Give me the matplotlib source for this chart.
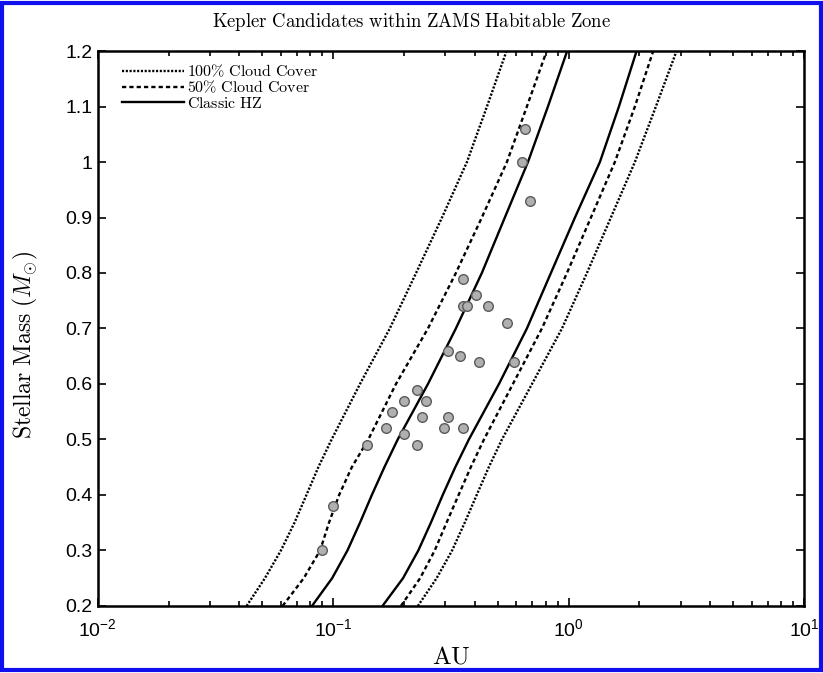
import numpy as np
import matplotlib
matplotlib.use('Agg')
import matplotlib.pyplot as plt
from matplotlib.patches import Rectangle
from matplotlib.ticker import LogLocator, NullFormatter, FixedLocator

plt.rcParams['mathtext.fontset'] = 'cm'
plt.rcParams['font.family'] = ['Liberation Sans', 'DejaVu Sans']

# stellar mass grid (M_sun) for the habitable zone boundaries
mass = [0.20, 0.25, 0.30, 0.35, 0.40, 0.45, 0.50, 0.60, 0.70, 0.80, 0.90, 1.00, 1.10, 1.20]

# boundary distances in AU
cloud100_inner = [0.0429, 0.0513, 0.0600, 0.0685, 0.0770, 0.0865, 0.0985, 0.130, 0.174, 0.225, 0.290, 0.370, 0.450, 0.545]
cloud50_inner = [0.0610, 0.0750, 0.0880, 0.0960, 0.1060, 0.1200, 0.1410, 0.1848, 0.2527, 0.332, 0.428, 0.547, 0.665, 0.807]
classic_inner = [0.0813, 0.0990, 0.1150, 0.130, 0.1460, 0.1650, 0.1880, 0.2527, 0.332, 0.428, 0.536, 0.672, 0.817, 0.986]
classic_outer = [0.162, 0.198, 0.230, 0.260, 0.292, 0.330, 0.377, 0.506, 0.665, 0.841, 1.064, 1.358, 1.636, 1.944]
cloud50_outer = [0.194, 0.234, 0.270, 0.303, 0.341, 0.384, 0.437, 0.580, 0.770, 0.984, 1.244, 1.572, 1.912, 2.287]
cloud100_outer = [0.229, 0.275, 0.320, 0.362, 0.407, 0.458, 0.521, 0.699, 0.937, 1.196, 1.512, 1.912, 2.348, 2.874]

# Kepler candidates
cand_au = [0.356, 0.406, 0.356, 0.369, 0.456, 0.546, 0.307, 0.345, 0.415, 0.586,
           0.228, 0.199, 0.248, 0.178, 0.238, 0.307, 0.168, 0.297, 0.356, 0.199,
           0.139, 0.228, 0.652, 0.631, 0.685, 0.0995, 0.0896]
cand_mass = [0.79, 0.76, 0.74, 0.74, 0.74, 0.71, 0.66, 0.65, 0.64, 0.64,
             0.59, 0.57, 0.57, 0.55, 0.54, 0.54, 0.52, 0.52, 0.52, 0.51,
             0.49, 0.49, 1.06, 1.00, 0.93, 0.38, 0.30]

yticks = [0.2, 0.3, 0.4, 0.5, 0.6, 0.7, 0.8, 0.9, 1.0, 1.1, 1.2]
ytick_labels = ['0.2', '0.3', '0.4', '0.5', '0.6', '0.7', '0.8', '0.9', '1', '1.1', '1.2']

fig = plt.figure(figsize=(8.23, 6.73), dpi=100)
ax = fig.add_axes([0.1187, 0.0996, 0.8583, 0.8246])

ls100 = (0, (0.9, 0.7))
ls50 = (0, (1.8, 1.3))

ax.plot(cloud100_inner, mass, color='black', lw=1.7, ls=ls100, label=r'$\mathrm{100\%\ Cloud\ Cover}$')
ax.plot(cloud50_inner, mass, color='black', lw=1.7, ls=ls50, label=r'$\mathrm{50\%\ Cloud\ Cover}$')
ax.plot(classic_inner, mass, color='black', lw=1.7, ls='-', label=r'$\mathrm{Classic\ HZ}$')
ax.plot(classic_outer, mass, color='black', lw=1.7, ls='-')
ax.plot(cloud50_outer, mass, color='black', lw=1.7, ls=ls50)
ax.plot(cloud100_outer, mass, color='black', lw=1.7, ls=ls100)

ax.scatter(cand_au, cand_mass, s=48, facecolor='#b0b0b0', edgecolor='#5a5a5a', linewidth=1.0, zorder=3)

ax.set_xscale('log')
ax.set_xlim(1e-2, 1e1)
ax.set_ylim(0.2, 1.2)
ax.yaxis.set_major_locator(FixedLocator(yticks))
ax.set_yticklabels(ytick_labels)
ax.xaxis.set_major_locator(LogLocator(base=10, numticks=10))
ax.xaxis.set_minor_locator(LogLocator(base=10, subs=np.arange(2, 10), numticks=20))
ax.xaxis.set_minor_formatter(NullFormatter())

ax.tick_params(which='both', direction='in', top=True, right=True, labelsize=14, colors='black')
ax.tick_params(which='major', length=6, width=1.2)
ax.tick_params(which='minor', length=3.5, width=1.2)
ax.tick_params(axis='x', which='major', pad=9)
ax.tick_params(axis='y', which='major', pad=4)
for s in ax.spines.values():
    s.set_linewidth(1.8)

ax.set_xlabel(r'$\mathrm{AU}$', fontsize=18, labelpad=3)
ax.set_ylabel(r'$\mathrm{Stellar\ Mass\ (}M_{\odot}\mathrm{)}$', fontsize=17)
ax.yaxis.set_label_coords(-0.082, 0.47)

fig.text(0.5, 0.968, r'$\mathrm{Kepler\ Candidates\ within\ ZAMS\ Habitable\ Zone}$',
         ha='center', va='center', fontsize=13.5)

leg = ax.legend(loc='upper left', bbox_to_anchor=(0.025, 0.99), borderaxespad=0,
                frameon=False, fontsize=11.5, handlelength=3.9,
                handletextpad=0.2, labelspacing=0.0)

# blue border of the figure
fig.patches.append(Rectangle((0.003, 0.004), 0.994, 0.992, transform=fig.transFigure,
                             fill=False, edgecolor='#1010ee', linewidth=3))

fig.savefig('out.png', dpi=100)
